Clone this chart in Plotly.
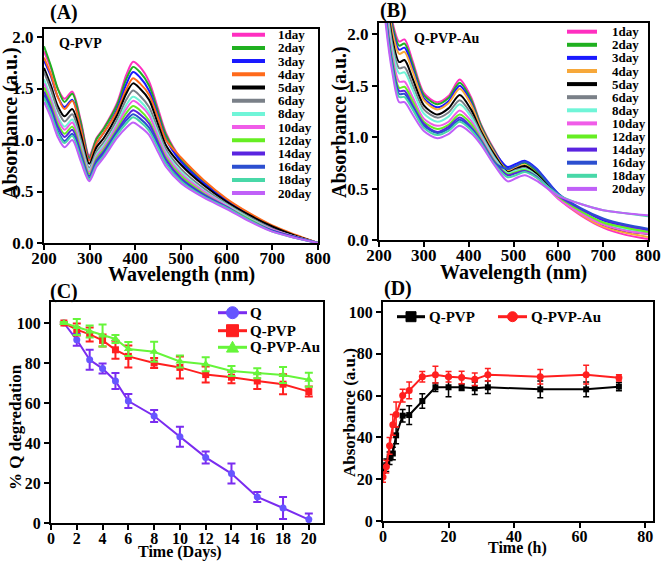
import plotly.graph_objects as go

FONT = "Liberation Serif"
W, H = 661, 562

# ---------------- data ----------------
days = ["1day", "2day", "3day", "4day", "5day", "6day", "8day",
        "10day", "12day", "14day", "16day", "18day", "20day"]

colors_A = ["#ff2fc0", "#20b020", "#1a1aff", "#ff6a1a", "#000000", "#7a8088",
            "#70f5d8", "#f05ce8", "#66ee22", "#5a24e0", "#2c4fd0", "#48d8a8", "#c060f8"]
colors_B = ["#ff2fc0", "#20b020", "#1a1aff", "#f7a83a", "#000000", "#7a8088",
            "#70f5d8", "#f05ce8", "#66ee22", "#5a24e0", "#2c4fd0", "#48d8a8", "#c060f8"]

wl_A = [200, 215, 230, 245, 262, 280, 299, 315, 331, 360, 380, 395, 410,
        430, 450, 467, 500, 550, 600, 650, 700, 750, 800]
spec_A = [
    [1.86, 1.70, 1.50, 1.40, 1.47, 1.20, 0.85, 1.02, 1.12, 1.36, 1.63, 1.76, 1.71, 1.57, 1.30, 1.07, 0.82, 0.60, 0.42, 0.28, 0.16, 0.07, 0.00],
    [1.91, 1.72, 1.50, 1.37, 1.45, 1.18, 0.83, 1.01, 1.11, 1.34, 1.59, 1.71, 1.66, 1.53, 1.27, 1.05, 0.81, 0.59, 0.41, 0.27, 0.16, 0.07, 0.00],
    [1.77, 1.62, 1.42, 1.32, 1.39, 1.13, 0.81, 0.97, 1.07, 1.30, 1.54, 1.66, 1.61, 1.48, 1.23, 1.01, 0.79, 0.58, 0.41, 0.27, 0.15, 0.07, 0.00],
    [1.80, 1.64, 1.42, 1.30, 1.38, 1.12, 0.80, 0.97, 1.07, 1.28, 1.49, 1.60, 1.55, 1.44, 1.21, 1.00, 0.83, 0.61, 0.43, 0.29, 0.17, 0.08, 0.00],
    [1.70, 1.53, 1.33, 1.23, 1.30, 1.06, 0.77, 0.93, 1.02, 1.24, 1.45, 1.55, 1.50, 1.39, 1.15, 0.95, 0.76, 0.56, 0.40, 0.27, 0.16, 0.07, 0.00],
    [1.66, 1.49, 1.29, 1.18, 1.25, 1.01, 0.73, 0.89, 0.98, 1.20, 1.39, 1.48, 1.43, 1.32, 1.10, 0.91, 0.72, 0.53, 0.38, 0.25, 0.14, 0.06, 0.00],
    [1.59, 1.42, 1.23, 1.13, 1.20, 0.97, 0.71, 0.86, 0.95, 1.16, 1.34, 1.42, 1.38, 1.27, 1.06, 0.88, 0.69, 0.51, 0.37, 0.24, 0.13, 0.06, 0.00],
    [1.55, 1.39, 1.20, 1.10, 1.17, 0.94, 0.69, 0.84, 0.93, 1.14, 1.30, 1.38, 1.34, 1.24, 1.03, 0.86, 0.67, 0.50, 0.36, 0.23, 0.13, 0.06, 0.00],
    [1.51, 1.35, 1.16, 1.06, 1.13, 0.91, 0.67, 0.82, 0.91, 1.11, 1.26, 1.33, 1.29, 1.19, 0.99, 0.83, 0.65, 0.48, 0.35, 0.23, 0.12, 0.06, 0.00],
    [1.47, 1.32, 1.13, 1.03, 1.10, 0.88, 0.65, 0.80, 0.89, 1.09, 1.22, 1.29, 1.25, 1.16, 0.97, 0.81, 0.63, 0.47, 0.35, 0.22, 0.12, 0.06, 0.00],
    [1.44, 1.28, 1.09, 0.99, 1.06, 0.85, 0.63, 0.78, 0.87, 1.07, 1.19, 1.25, 1.21, 1.12, 0.94, 0.78, 0.61, 0.46, 0.34, 0.22, 0.12, 0.05, 0.00],
    [1.41, 1.26, 1.07, 0.97, 1.04, 0.83, 0.62, 0.76, 0.85, 1.05, 1.16, 1.22, 1.18, 1.09, 0.92, 0.77, 0.60, 0.45, 0.34, 0.22, 0.11, 0.05, 0.00],
    [1.37, 1.22, 1.03, 0.93, 1.00, 0.80, 0.60, 0.74, 0.83, 1.02, 1.12, 1.17, 1.13, 1.05, 0.88, 0.74, 0.58, 0.44, 0.33, 0.21, 0.11, 0.05, 0.00],
]

wl_B = [200, 215, 230, 245, 257, 275, 300, 330, 355, 380, 405, 427, 457,
        487, 505, 525, 550, 600, 650, 700, 750, 800]
spec_B = [
    [3.20, 2.60, 2.12, 1.93, 1.95, 1.74, 1.43, 1.34, 1.40, 1.56, 1.39, 1.13, 0.88, 0.68, 0.70, 0.72, 0.64, 0.40, 0.24, 0.12, 0.05, 0.01],
    [3.18, 2.57, 2.09, 1.89, 1.91, 1.71, 1.41, 1.32, 1.38, 1.53, 1.37, 1.12, 0.87, 0.69, 0.72, 0.75, 0.67, 0.43, 0.28, 0.17, 0.12, 0.08],
    [3.16, 2.53, 2.05, 1.85, 1.87, 1.67, 1.38, 1.29, 1.35, 1.50, 1.34, 1.10, 0.86, 0.71, 0.74, 0.77, 0.70, 0.45, 0.30, 0.19, 0.14, 0.10],
    [3.14, 2.50, 2.02, 1.81, 1.83, 1.64, 1.36, 1.27, 1.33, 1.47, 1.32, 1.09, 0.85, 0.67, 0.70, 0.73, 0.65, 0.41, 0.25, 0.13, 0.07, 0.03],
    [3.10, 2.43, 1.95, 1.73, 1.75, 1.57, 1.31, 1.22, 1.28, 1.41, 1.27, 1.06, 0.83, 0.66, 0.69, 0.72, 0.65, 0.42, 0.27, 0.15, 0.09, 0.06],
    [3.07, 2.38, 1.90, 1.67, 1.68, 1.51, 1.27, 1.19, 1.24, 1.36, 1.23, 1.04, 0.81, 0.65, 0.68, 0.70, 0.63, 0.41, 0.27, 0.16, 0.10, 0.07],
    [3.04, 2.33, 1.85, 1.62, 1.63, 1.46, 1.23, 1.15, 1.20, 1.32, 1.20, 1.02, 0.80, 0.65, 0.67, 0.69, 0.63, 0.42, 0.28, 0.17, 0.11, 0.08],
    [3.00, 2.27, 1.79, 1.54, 1.54, 1.39, 1.18, 1.11, 1.15, 1.26, 1.16, 1.00, 0.78, 0.63, 0.65, 0.67, 0.61, 0.40, 0.26, 0.15, 0.09, 0.06],
    [2.97, 2.22, 1.74, 1.48, 1.49, 1.35, 1.15, 1.08, 1.12, 1.22, 1.13, 0.98, 0.77, 0.64, 0.66, 0.68, 0.62, 0.42, 0.28, 0.17, 0.12, 0.08],
    [2.95, 2.19, 1.71, 1.45, 1.45, 1.31, 1.13, 1.05, 1.10, 1.19, 1.10, 0.97, 0.76, 0.63, 0.65, 0.67, 0.62, 0.43, 0.30, 0.20, 0.14, 0.10],
    [2.94, 2.17, 1.69, 1.42, 1.42, 1.29, 1.11, 1.04, 1.08, 1.17, 1.09, 0.96, 0.75, 0.69, 0.72, 0.76, 0.69, 0.45, 0.31, 0.21, 0.15, 0.11],
    [2.93, 2.14, 1.66, 1.39, 1.39, 1.27, 1.09, 1.02, 1.06, 1.15, 1.07, 0.95, 0.74, 0.61, 0.63, 0.66, 0.61, 0.44, 0.35, 0.29, 0.26, 0.23],
    [2.90, 2.10, 1.62, 1.34, 1.34, 1.22, 1.06, 0.99, 1.03, 1.11, 1.04, 0.93, 0.73, 0.57, 0.60, 0.63, 0.58, 0.43, 0.35, 0.29, 0.26, 0.24],
]

time_C = [1, 2, 3, 4, 5, 6, 8, 10, 12, 14, 16, 18, 20]
q_deg = [100, 91.6, 81.6, 77.2, 71.0, 61.0, 53.5, 43.1, 32.8, 24.7, 13.0, 7.5, 1.7]
q_err = [0.5, 3, 5, 2.5, 4, 3.5, 3, 5, 3, 5, 2.5, 5.5, 3]
qpvp_deg = [100, 96.7, 94.3, 91.3, 86.6, 83.3, 80.0, 77.8, 74.2, 72.9, 71.0, 69.4, 65.7]
qpvp_err = [0.5, 3, 3.5, 3, 4.5, 5.5, 2.5, 5.5, 4, 3, 4, 5, 2.5]
qpvpau_deg = [100, 98.0, 95.7, 93.8, 92.0, 87.0, 85.6, 80.8, 79.4, 76.0, 74.9, 74.0, 71.6]
qpvpau_err = [0.5, 4, 3, 5.5, 2, 3.5, 5, 3, 3.5, 2.5, 2.5, 4, 3.5]

time_D = [0, 1, 2, 3, 4, 6, 8, 12, 16, 20, 24, 28, 32, 48, 62, 72]
abs_qpvp = [24, 26.7, 30, 32.3, 41, 50.4, 50.7, 57.4, 64, 64, 64, 63.5, 64, 63, 63, 64.3]
err_qpvp = [3, 3, 3, 3, 4, 3, 4.5, 3.5, 2, 4.5, 1.5, 3, 3, 4, 3.5, 2]
abs_qpvpau = [21, 26, 36, 46, 51, 60, 62.5, 69, 70, 69, 68.7, 67.8, 70, 69, 70, 68.5]
err_qpvpau = [2.5, 3, 4, 5, 6, 3, 4, 2.5, 4, 2.5, 3, 3, 3, 3.5, 4.5, 1.5]

# ---------------- figure ----------------
fig = go.Figure()

for i, d in enumerate(days):
    fig.add_trace(go.Scatter(x=wl_A, y=spec_A[i], mode="lines", name=d,
                             line=dict(color=colors_A[i], width=2, shape="spline", smoothing=0.8),
                             xaxis="x", yaxis="y", showlegend=False))
for i, d in enumerate(days):
    fig.add_trace(go.Scatter(x=wl_B, y=spec_B[i], mode="lines", name=d,
                             line=dict(color=colors_B[i], width=2, shape="spline", smoothing=0.8),
                             xaxis="x2", yaxis="y2", showlegend=False))

c_specs = [
    ("Q", q_deg, q_err, "#7a2cf0", "#6655ff", "circle", 7),
    ("Q-PVP", qpvp_deg, qpvp_err, "#ff1f1f", "#ff1f1f", "square", 7),
    ("Q-PVP-Au", qpvpau_deg, qpvpau_err, "#66f53a", "#66f53a", "triangle-up", 8),
]
for name, yv, ev, lc, mc, sym, ms in c_specs:
    fig.add_trace(go.Scatter(x=time_C, y=yv, mode="lines+markers", name=name,
                             line=dict(color=lc, width=2),
                             marker=dict(color=mc, symbol=sym, size=ms),
                             error_y=dict(type="data", array=ev, visible=True, color=lc, thickness=2, width=4),
                             xaxis="x3", yaxis="y3", showlegend=False))

d_specs = [
    ("Q-PVP", abs_qpvp, err_qpvp, "#000000", "square", 6),
    ("Q-PVP-Au", abs_qpvpau, err_qpvpau, "#ff1f1f", "circle", 7),
]
for name, yv, ev, col, sym, ms in d_specs:
    fig.add_trace(go.Scatter(x=time_D, y=yv, mode="lines+markers", name=name,
                             line=dict(color=col, width=2),
                             marker=dict(color=col, symbol=sym, size=ms),
                             error_y=dict(type="data", array=ev, visible=True, color=col, thickness=1.5, width=3),
                             xaxis="x4", yaxis="y4", showlegend=False))


def dx(p0, p1):
    return [p0 / W, p1 / W]


def dy(ptop, pbot):
    return [1 - pbot / H, 1 - ptop / H]


def axis(size, **kw):
    a = dict(showline=True, linewidth=2, linecolor="black", mirror=True,
             ticks="outside", ticklen=5, tickwidth=2, tickcolor="black",
             showgrid=False, zeroline=False, fixedrange=True, automargin=False,
             tickfont=dict(family=FONT, size=size, color="black", weight="bold"))
    a.update(kw)
    return a


fig.update_layout(
    width=W, height=H, margin=dict(l=0, r=0, t=0, b=0, autoexpand=False),
    paper_bgcolor="white", plot_bgcolor="white", showlegend=False,
    xaxis=axis(17, domain=dx(44, 318), range=[200, 800], tickvals=[200, 300, 400, 500, 600, 700, 800],
               anchor="y", ticklabelstandoff=-6),
    yaxis=axis(17, domain=dy(29, 243), range=[0, 2.078], tickvals=[0, 0.5, 1.0, 1.5, 2.0],
               tickformat=".1f", anchor="x"),
    xaxis2=axis(17, domain=dx(379, 648), range=[200, 800], tickvals=[200, 300, 400, 500, 600, 700, 800],
                anchor="y2", ticklabelstandoff=-6),
    yaxis2=axis(17, domain=dy(23, 240), range=[0, 2.11], tickvals=[0, 0.5, 1.0, 1.5, 2.0],
                tickformat=".1f", anchor="x2"),
    xaxis3=axis(16, domain=dx(51, 323), range=[0, 21.1], tickvals=list(range(0, 21, 2)),
                anchor="y3", ticklabelstandoff=-5),
    yaxis3=axis(16, domain=dy(302, 523), range=[0, 110.5], tickvals=[0, 20, 40, 60, 80, 100], anchor="x3"),
    xaxis4=axis(16, domain=dx(383, 653), range=[0, 82.4], tickvals=[0, 20, 40, 60, 80],
                anchor="y4", ticklabelstandoff=-5),
    yaxis4=axis(16, domain=dy(302, 521), range=[0, 104.8], tickvals=[0, 20, 40, 60, 80, 100], anchor="x4"),
)

annotations = []
shapes = []


def txt(text, px, py, size, angle=0, xanchor="center"):
    annotations.append(dict(text=text, x=px / W, y=1 - py / H, xref="paper", yref="paper",
                            showarrow=False, xanchor=xanchor, yanchor="middle", textangle=angle,
                            font=dict(family=FONT, size=size, color="black", weight="bold")))


# panel labels
txt("(A)", 64, 13, 20)
txt("(B)", 393, 11, 20)
txt("(C)", 64, 291, 20)
txt("(D)", 398, 288, 20)
# inner titles
txt("Q-PVP", 80, 43, 14)
txt("Q-PVP-Au", 447, 39, 14)
# axis titles
txt("Wavelength (nm)", 181, 274, 20)
txt("Absorbance (a.u.)", 10, 123, 20, angle=-90)
txt("Wavelength (nm)", 513, 272, 20)
txt("Absorbance (a.u.)", 340, 122, 20, angle=-90)
txt("Time (Days)", 180, 552, 16)
txt("% Q degredation", 15, 427, 17, angle=-90)
txt("Time (h)", 517, 548, 16)
txt("Absorbance (a.u.)", 349, 413, 17, angle=-90)

# legends of the spectra panels
leg_cfg = [
    ("x domain", "y domain", colors_A, 44, 274, 243, 214, 232, 265, 276, 34.7, 13.2),
    ("x2 domain", "y2 domain", colors_B, 379, 269, 240, 217, 567, 597, 610, 31.7, 13.1),
]
for xr, yr, cols, x0p, wpx, ybot, hpx, l0, l1, tx, r0, step in leg_cfg:
    for i, d in enumerate(days):
        py = r0 + step * i
        yd = (ybot - py) / hpx
        shapes.append(dict(type="line", xref=xr, yref=yr,
                           x0=(l0 - x0p) / wpx, x1=(l1 - x0p) / wpx, y0=yd, y1=yd,
                           line=dict(color=cols[i], width=4)))
        annotations.append(dict(text=d, xref=xr, yref=yr, x=(tx - x0p) / wpx, y=yd,
                                showarrow=False, xanchor="left", yanchor="middle",
                                font=dict(family=FONT, size=13, color="black", weight="bold")))


# legends of panels C and D (line sample + glyph + label)
def glyph(kind, cx, cy, r, color):
    xa, ya = cx / W, 1 - cy / H
    common = dict(xref="paper", yref="paper", xsizemode="pixel", ysizemode="pixel",
                  xanchor=xa, yanchor=ya, fillcolor=color, line=dict(color=color, width=1))
    if kind == "circle":
        shapes.append(dict(type="circle", x0=-r, x1=r, y0=-r, y1=r, **common))
    elif kind == "square":
        shapes.append(dict(type="rect", x0=-r, x1=r, y0=-r, y1=r, **common))
    else:
        shapes.append(dict(type="path", path=f"M {-r},{-r * 0.8} L {r},{-r * 0.8} L 0,{r} Z", **common))


def leg_entry(label, color, mcolor, kind, lx0, lx1, py, r, tx, size):
    shapes.append(dict(type="line", xref="paper", yref="paper", x0=lx0 / W, x1=lx1 / W,
                       y0=1 - py / H, y1=1 - py / H, line=dict(color=color, width=3)))
    glyph(kind, (lx0 + lx1) / 2, py, r, mcolor)
    txt(label, tx, py, size, xanchor="left")


for (name, _, _, lc, mc, sym, _), py in zip(c_specs, [312.7, 330.7, 347.3]):
    kind = "circle" if sym == "circle" else ("square" if sym == "square" else "triangle")
    leg_entry(name, lc, mc, kind, 218, 247, py, 6, 248, 15)

d_leg_x = [(397, 425, 427), (498, 527, 529)]
for (name, _, _, col, sym, _), (lx0, lx1, tx) in zip(d_specs, d_leg_x):
    leg_entry(name, col, col, sym, lx0, lx1, 316.7, 5, tx, 15)

fig.update_layout(annotations=annotations, shapes=shapes)

# the page's default body margin would offset the 661x562 figure; remove it
fig.write_html("out.html", config={"displayModeBar": False},
               post_script="document.body.style.margin='0px';document.body.style.overflow='hidden';")
